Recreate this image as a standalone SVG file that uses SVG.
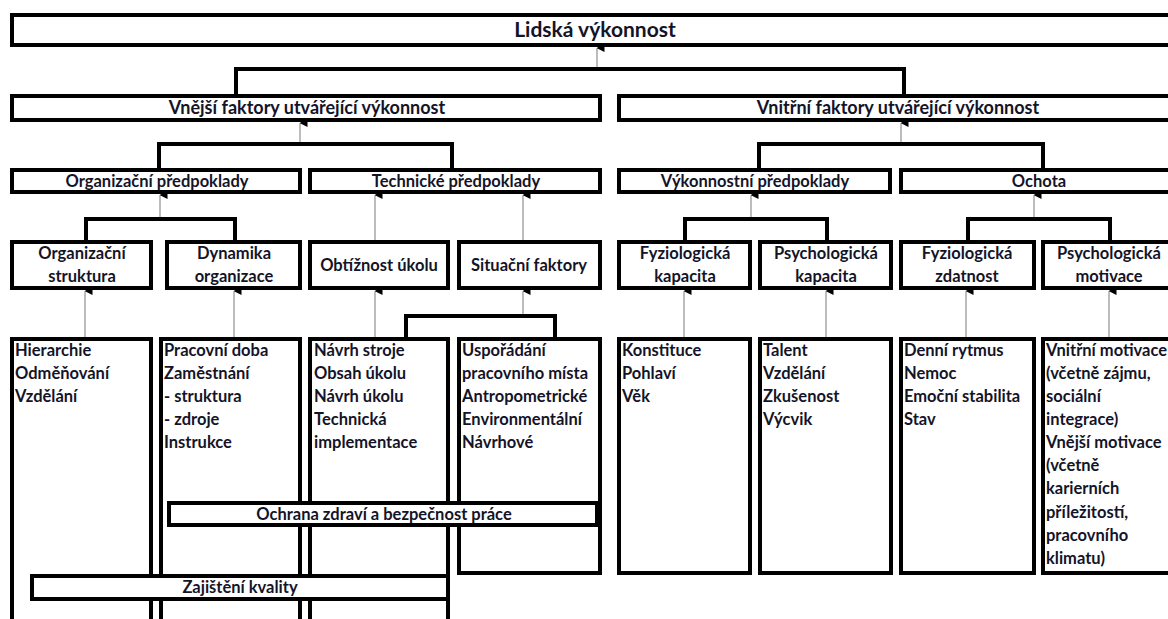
<svg xmlns="http://www.w3.org/2000/svg" width="1168" height="619" viewBox="0 0 1168 619">
<defs>
<marker id="ah" markerWidth="8" markerHeight="8" refX="4" refY="0.5" orient="auto" markerUnits="userSpaceOnUse" viewBox="0 0 8 8">
<path d="M0,8 L4,0 L8,8 Z" fill="#000"/>
</marker>
<style>
.b{fill:#fff;stroke:#000;stroke-width:4}
.t{font-family:Lato,"Liberation Sans",sans-serif;font-weight:bold;fill:#141428}
.c{text-anchor:middle}
.s15{font-size:16.5px}
.l{font-size:16.5px}
.br{fill:none;stroke:#000;stroke-width:4}
.ar{stroke:#999;stroke-width:1.3;fill:none;marker-end:url(#ah)}
</style>
</defs>
<rect width="1168" height="619" fill="#fff"/>
<g id="bottom-boxes">
<g id="n-a"><rect class="b" x="12" y="339" width="139" height="300"/>
<text class="t l" x="15" y="356">Hierarchie</text><text class="t l" x="15" y="379">Odměňování</text><text class="t l" x="15" y="402">Vzdělání</text></g>
<g id="n-b"><rect class="b" x="161" y="339" width="139" height="300"/>
<text class="t l" x="164" y="356">Pracovní doba</text><text class="t l" x="164" y="379">Zaměstnání</text><text class="t l" x="164" y="402">- struktura</text><text class="t l" x="164" y="425">- zdroje</text><text class="t l" x="164" y="448">Instrukce</text></g>
<g id="n-c"><rect class="b" x="310" y="339" width="138" height="300"/>
<text class="t l" x="314" y="356">Návrh stroje</text><text class="t l" x="314" y="379">Obsah úkolu</text><text class="t l" x="314" y="402">Návrh úkolu</text><text class="t l" x="314" y="425">Technická</text><text class="t l" x="314" y="448">implementace</text></g>
<g id="n-d"><rect class="b" x="459" y="339" width="141" height="234"/>
<text class="t l" x="462" y="356">Uspořádání</text><text class="t l" x="462" y="379">pracovního místa</text><text class="t l" x="462" y="402">Antropometrické</text><text class="t l" x="462" y="425">Environmentální</text><text class="t l" x="462" y="448">Návrhové</text></g>
<g id="n-e"><rect class="b" x="619" y="339" width="131" height="234"/>
<text class="t l" x="622" y="356">Konstituce</text><text class="t l" x="622" y="379">Pohlaví</text><text class="t l" x="622" y="402">Věk</text></g>
<g id="n-f"><rect class="b" x="760" y="339" width="131" height="234"/>
<text class="t l" x="763" y="356">Talent</text><text class="t l" x="763" y="379">Vzdělání</text><text class="t l" x="763" y="402">Zkušenost</text><text class="t l" x="763" y="425">Výcvik</text></g>
<g id="n-g"><rect class="b" x="901" y="339" width="133" height="234"/>
<text class="t l" x="904" y="356">Denní rytmus</text><text class="t l" x="904" y="379">Nemoc</text><text class="t l" x="904" y="402">Emoční stabilita</text><text class="t l" x="904" y="425">Stav</text></g>
<g id="n-h"><rect class="b" x="1043" y="339" width="135" height="234"/>
<text class="t l" x="1046" y="356">Vnitřní motivace</text><text class="t l" x="1046" y="379">(včetně zájmu,</text><text class="t l" x="1046" y="402">sociální</text><text class="t l" x="1046" y="425">integrace)</text><text class="t l" x="1046" y="448">Vnější motivace</text><text class="t l" x="1046" y="471">(včetně</text><text class="t l" x="1046" y="494">karierních</text><text class="t l" x="1046" y="518">příležitostí,</text><text class="t l" x="1046" y="541">pracovního</text><text class="t l" x="1046" y="564">klimatu)</text></g>
</g>
<g id="n-ochrana"><rect class="b" x="169" y="503" width="428" height="22"/><text class="t c s15" x="384" y="520">Ochrana zdraví a bezpečnost práce</text></g>
<g id="n-kvalita"><rect class="b" x="32" y="576" width="416" height="23"/><text class="t c s15" x="240" y="593">Zajištění kvality</text></g>
<g id="n-top"><rect class="b" x="12" y="15" width="1166" height="30"/><text class="t c" style="font-size:21px" x="595" y="37">Lidská výkonnost</text></g>
<g id="n-vnejsi"><rect class="b" x="12" y="96" width="588" height="24"/><text class="t c" style="font-size:18px" x="307" y="114">Vnější faktory utvářející výkonnost</text></g>
<g id="n-vnitrni"><rect class="b" x="619" y="96" width="559" height="24"/><text class="t c" style="font-size:18px" x="898" y="114">Vnitřní faktory utvářející výkonnost</text></g>
<g id="n-org"><rect class="b" x="12" y="170" width="288" height="22"/><text class="t c s15" x="157" y="187">Organizační předpoklady</text></g>
<g id="n-tech"><rect class="b" x="310" y="170" width="290" height="22"/><text class="t c s15" x="456" y="187">Technické předpoklady</text></g>
<g id="n-vyk"><rect class="b" x="619" y="170" width="271" height="22"/><text class="t c s15" x="755" y="187">Výkonnostní předpoklady</text></g>
<g id="n-ochota"><rect class="b" x="901" y="170" width="277" height="22"/><text class="t c s15" x="1039" y="187">Ochota</text></g>
<g id="n-orgstr"><rect class="b" x="12" y="242" width="139" height="46"/><text class="t c s15" x="82" y="259">Organizační</text><text class="t c s15" x="82" y="282">struktura</text></g>
<g id="n-dyn"><rect class="b" x="167" y="242" width="133" height="46"/><text class="t c s15" x="234" y="259">Dynamika</text><text class="t c s15" x="234" y="282">organizace</text></g>
<g id="n-obt"><rect class="b" x="310" y="242" width="138" height="46"/><text class="t c s15" x="379" y="271">Obtížnost úkolu</text></g>
<g id="n-sit"><rect class="b" x="459" y="242" width="141" height="46"/><text class="t c s15" x="529" y="271">Situační faktory</text></g>
<g id="n-fyzk"><rect class="b" x="619" y="242" width="131" height="46"/><text class="t c s15" x="685" y="259">Fyziologická</text><text class="t c s15" x="685" y="282">kapacita</text></g>
<g id="n-psyk"><rect class="b" x="760" y="242" width="131" height="46"/><text class="t c s15" x="826" y="259">Psychologická</text><text class="t c s15" x="826" y="282">kapacita</text></g>
<g id="n-fyzz"><rect class="b" x="901" y="242" width="133" height="46"/><text class="t c s15" x="967" y="259">Fyziologická</text><text class="t c s15" x="967" y="282">zdatnost</text></g>
<g id="n-psym"><rect class="b" x="1043" y="242" width="135" height="46"/><text class="t c s15" x="1109" y="259">Psychologická</text><text class="t c s15" x="1109" y="282">motivace</text></g>
<g id="connectors">
<polyline class="br" points="236,94 236,69 904,69 904,94"/>
<polyline class="br" points="159,168 159,144 452,144 452,168"/>
<polyline class="br" points="759,168 759,144 1043,144 1043,168"/>
<polyline class="br" points="86,240 86,219 235,219 235,240"/>
<polyline class="br" points="685,240 685,219 827,219 827,240"/>
<polyline class="br" points="968,240 968,219 1110,219 1110,240"/>
<polyline class="br" points="406,337 406,316 555,316 555,337"/>
<line class="ar" x1="597" y1="67" x2="597" y2="48"/>
<line class="ar" x1="300" y1="142" x2="300" y2="123"/>
<line class="ar" x1="901" y1="142" x2="901" y2="123"/>
<line class="ar" x1="160" y1="217" x2="160" y2="195"/>
<line class="ar" x1="751" y1="217" x2="751" y2="195"/>
<line class="ar" x1="1034" y1="217" x2="1034" y2="195"/>
<line class="ar" x1="375" y1="240" x2="375" y2="195"/>
<line class="ar" x1="523" y1="240" x2="523" y2="195"/>
<line class="ar" x1="85" y1="337" x2="85" y2="291"/>
<line class="ar" x1="234" y1="337" x2="234" y2="291"/>
<line class="ar" x1="375" y1="337" x2="375" y2="291"/>
<line class="ar" x1="523" y1="314" x2="523" y2="291"/>
<line class="ar" x1="684" y1="337" x2="684" y2="291"/>
<line class="ar" x1="826" y1="337" x2="826" y2="291"/>
<line class="ar" x1="966" y1="337" x2="966" y2="291"/>
<line class="ar" x1="1109" y1="337" x2="1109" y2="291"/>
</g>
</svg>
